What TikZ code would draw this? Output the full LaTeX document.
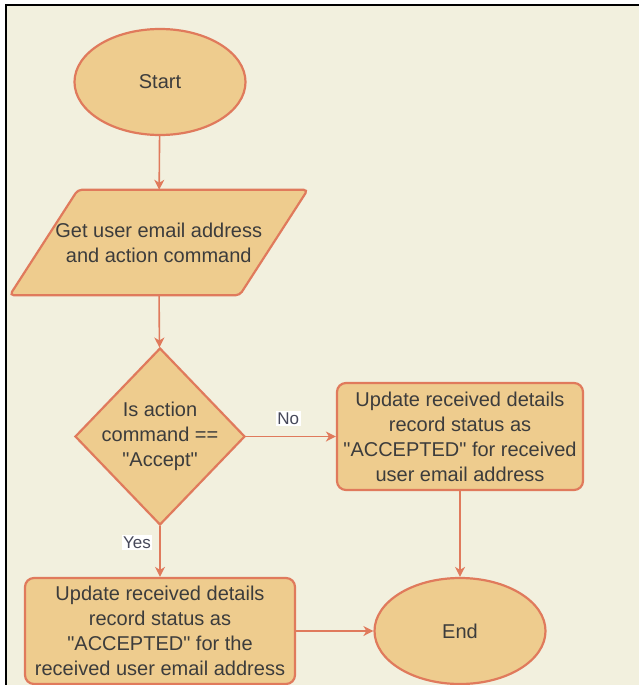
\documentclass[tikz,border=0pt]{standalone}
\usepackage{fontspec}
\setmainfont{Liberation Sans}
\usetikzlibrary{shapes.geometric,arrows.meta}
\definecolor{bgcream}{RGB}{242,240,222}
\definecolor{shapefill}{RGB}{238,204,142}
\definecolor{shapeline}{RGB}{224,122,92}
\definecolor{txtgray}{RGB}{60,60,60}
\definecolor{lblgray}{RGB}{70,72,90}
\newcommand{\sq}{\textquotedbl}
\tikzset{
  x=1pt, y=-1pt,
  base/.style={draw=shapeline, fill=shapefill, line width=2.2pt, text=txtgray,
    font=\fontsize{20}{25}\selectfont, align=center, inner sep=0pt},
  term/.style={base, ellipse, minimum width=171pt, minimum height=106pt},
  procbox/.style={base, rectangle, rounded corners=9pt},
  plain/.style={text=txtgray, font=\fontsize{20}{25}\selectfont, align=center, inner sep=0pt},
  conn/.style={draw=shapeline, line width=1.6pt, -{Stealth[length=10pt,width=10pt,inset=3pt]}},
  lbl/.style={fill=white, text=lblgray, font=\fontsize{17}{20}\selectfont, inner sep=1.5pt}
}
\begin{document}
\begin{tikzpicture}
\useasboundingbox (0,0) rectangle (639,685);
\fill[white] (0,0) rectangle (639,685);
\fill[bgcream] (6,5) rectangle (639,685);
\draw[black, line width=2.2pt] (6,685) -- (6,5) -- (639,5);

% Start
\node[term] (start) at (160,82) {Start};

% Input parallelogram
\node[plain, minimum width=229.5pt, minimum height=105pt] (inp) at (158.75,242.5) {};
\draw[draw=shapeline, fill=shapefill, line width=2.2pt, rounded corners=4pt]
  ([xshift=34pt]inp.north west) -- ([xshift=34pt]inp.north east) --
  ([xshift=-34pt]inp.south east) -- ([xshift=-34pt]inp.south west) -- cycle;
\node[plain] (inptxt) at (inp.center) {Get user email address\\and action command};

% Decision
\node[base, diamond, minimum width=170pt, minimum height=177pt] (dec) at (160,436.5) {};
\node[plain] (dectxt) at (dec.center) {Is action\\command ==\\\sq Accept\sq};

% Right process
\node[procbox, minimum width=246pt, minimum height=107pt] (accr) at (460,436.5)
  {Update received details\\record status as\\\sq ACCEPTED\sq{} for received\\user email address};

% Left process
\node[procbox, minimum width=270pt, minimum height=106pt] (accl) at (160,631)
  {Update received details\\record status as\\\sq ACCEPTED\sq{} for the\\received user email address};

% End
\node[term] (end) at (460,631) {End};

% Connectors
\draw[conn] (start) -- (inp);
\draw[conn] (inp) -- (dec);
\draw[conn] (dec) -- node[lbl, pos=0.47, yshift=18pt] (nolbl) {No} (accr);
\draw[conn] (dec) -- node[lbl, pos=0.33, xshift=-23pt] (yeslbl) {Yes} (accl);
\draw[conn] (accr) -- (end);
\draw[conn] (accl) -- (end);
\end{tikzpicture}
\end{document}
